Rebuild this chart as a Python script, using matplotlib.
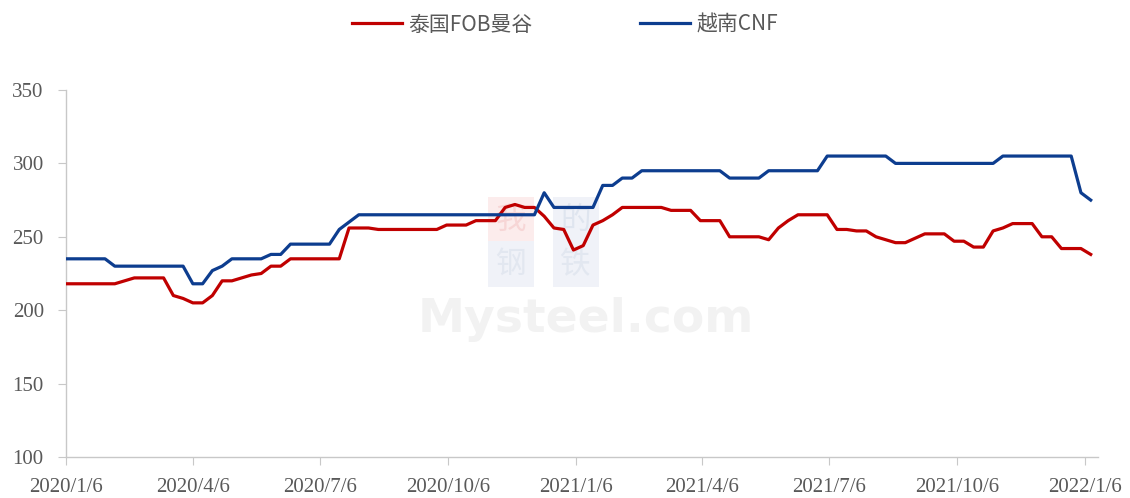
import matplotlib
matplotlib.use("Agg")
import matplotlib.pyplot as plt
import pandas as pd

# weekly prices, USD/t
dates = pd.date_range("2020-01-06", periods=106, freq="7D")

thai_fob = (
    [218] * 6 + [220] + [222] * 4 + [210, 208, 205, 205, 210, 220, 220, 222, 224, 225, 230, 230]
    + [235] * 6 + [256] * 3 + [255] * 7 + [258] * 3 + [261] * 3
    + [270, 272, 270, 270, 264, 256, 255, 241, 244, 258, 261, 265]
    + [270] * 5 + [268] * 3 + [261] * 3 + [250] * 4 + [248, 256, 261] + [265] * 4
    + [255, 255, 254, 254, 250, 248, 246, 246, 249] + [252] * 3 + [247, 247, 243, 243, 254, 256]
    + [259] * 3 + [250, 250, 242, 242, 242, 238]
)
vn_cnf = (
    [235] * 5 + [230] * 8 + [218, 218, 227, 230] + [235] * 4 + [238, 238] + [245] * 5 + [255, 260]
    + [265] * 19 + [280] + [270] * 5 + [285, 285, 290, 290] + [295] * 9 + [290] * 4
    + [295] * 6 + [305] * 7 + [300] * 11 + [305] * 8 + [280, 275]
)

labels = ["泰国FOB曼谷", "越南CNF"]
colors = ["#C00000", "#0D3D8F"]
tick_dates = pd.to_datetime(["2020-01-06", "2020-04-06", "2020-07-06", "2020-10-06", "2021-01-06",
                             "2021-04-06", "2021-07-06", "2021-10-06", "2022-01-06"])

fig = plt.figure(figsize=(11.3, 4.98), dpi=100)
ax = fig.add_axes([0.0584, 0.0823, 0.913, 0.737])

# faint watermark
ax.text(0.504, 0.375, "Mysteel.com", transform=ax.transAxes, fontsize=34, fontweight="bold",
        color="#f2f2f2", ha="center", va="center", zorder=0, family="DejaVu Sans")
for (cx, cy), ch, fc, tc in zip([(0.431, 0.645), (0.494, 0.645), (0.431, 0.525), (0.494, 0.525)],
                                ["我", "的", "钢", "铁"],
                                ["#fcecec", "#f0f2f8", "#f0f2f8", "#f0f2f8"],
                                ["#f7d6d6", "#dfe5ef", "#e2e7f0", "#e2e7f0"]):
    ax.text(cx, cy, ch, transform=ax.transAxes, fontsize=22, color=tc, ha="center", va="center",
            family="Noto Sans CJK SC", zorder=0,
            bbox=dict(boxstyle="square,pad=0.25", fc=fc, ec="none"))

ax.plot(dates, thai_fob, color=colors[0], lw=2.3, label=labels[0], zorder=3)
ax.plot(dates, vn_cnf, color=colors[1], lw=2.3, label=labels[1], zorder=3)

ax.set_ylim(100, 350)
ax.set_yticks([100, 150, 200, 250, 300, 350])
ax.set_xlim(pd.Timestamp("2020-01-06"), pd.Timestamp("2022-01-15"))
ax.set_xticks(tick_dates)
ax.set_xticklabels([f"{d.year}/{d.month}/{d.day}" for d in tick_dates])

for s in ["top", "right"]:
    ax.spines[s].set_visible(False)
for s in ["left", "bottom"]:
    ax.spines[s].set_color("#c8c8c8")
    ax.spines[s].set_linewidth(1.0)

ax.tick_params(axis="both", colors="#c8c8c8", labelcolor="#595959", labelsize=15, length=6)
ax.tick_params(axis="y", pad=10)
ax.tick_params(axis="x", pad=9)
for t in ax.get_xticklabels() + ax.get_yticklabels():
    t.set_family("Liberation Serif")

fig.legend(loc="upper center", bbox_to_anchor=(0.5, 1.01), ncol=2, frameon=False,
           prop={"family": ["Noto Sans CJK SC", "DejaVu Sans"], "size": 15},
           labelcolor="#595959", handlelength=2.4, columnspacing=5.2, handletextpad=0.3)

fig.savefig("out.png", dpi=100)
